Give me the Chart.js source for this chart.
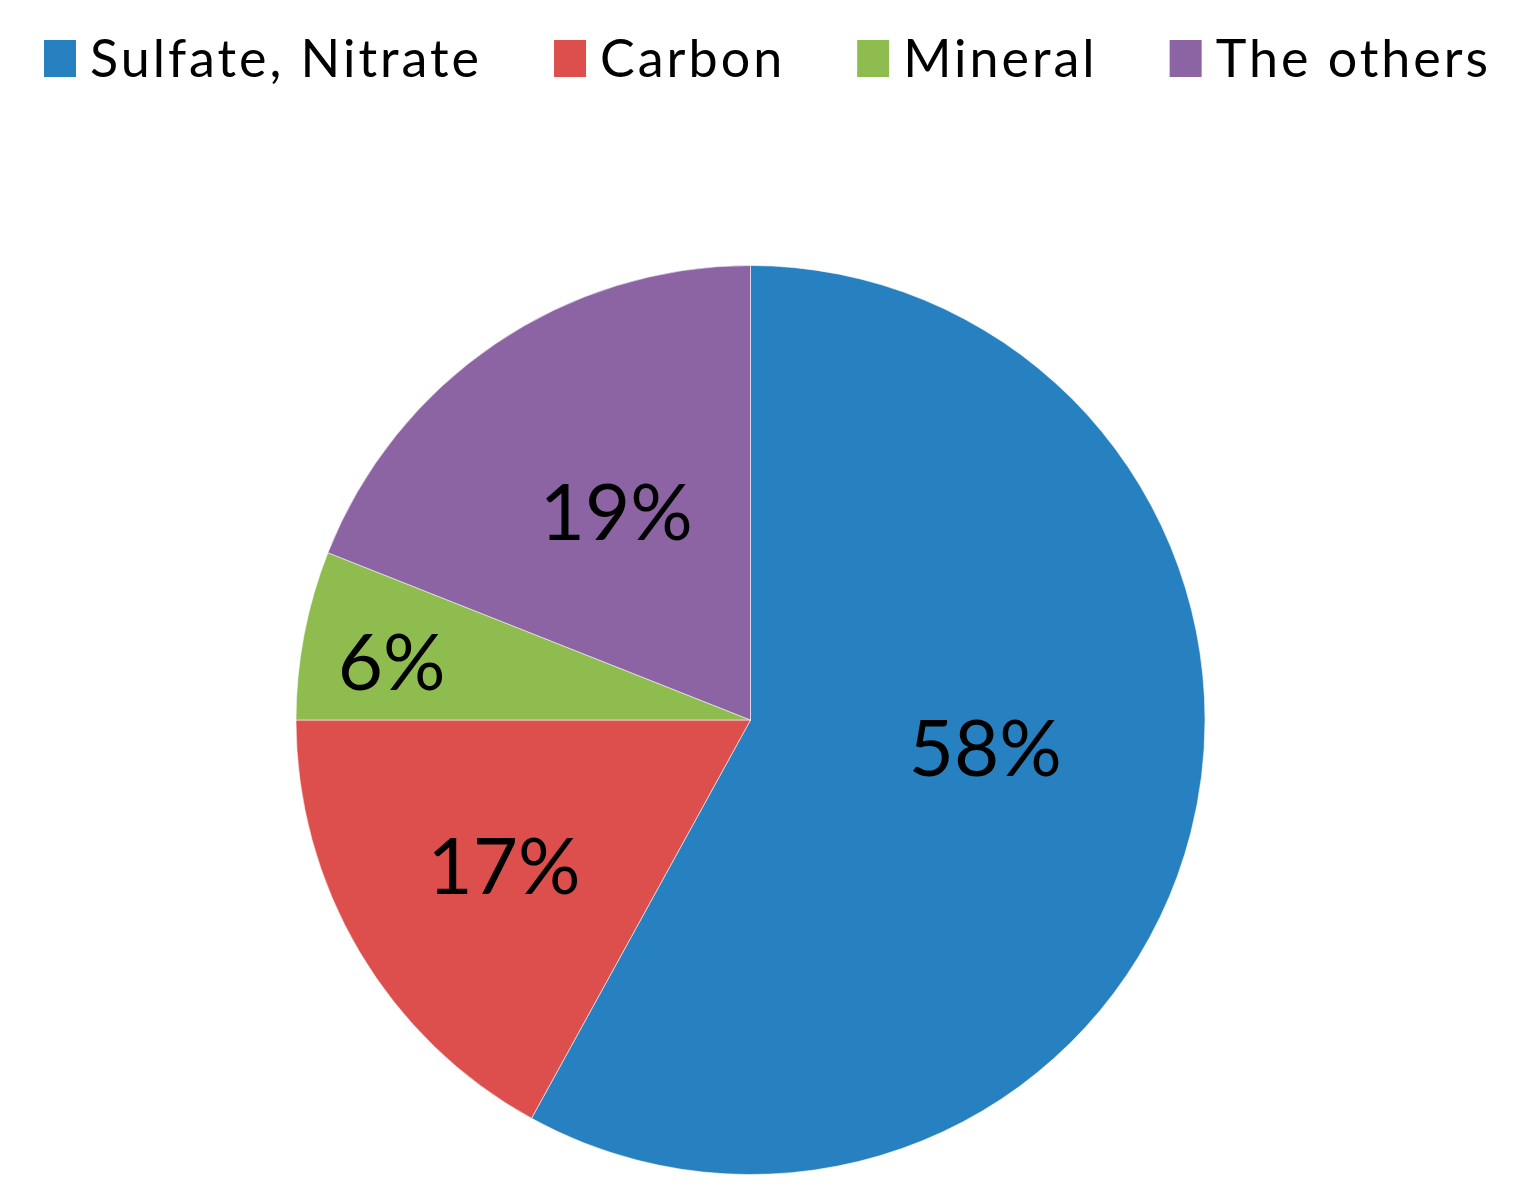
<!DOCTYPE html>
<html>
<head>
<meta charset="utf-8">
<script src="https://cdn.jsdelivr.net/npm/chart.js@4/dist/chart.umd.min.js"></script>
<style>
  html, body { margin: 0; padding: 0; background: #fff; }
  canvas { display: block; }
</style>
</head>
<body>
<canvas id="pieChart" width="1513" height="1197"></canvas>
<script>
const categories = ["Sulfate, Nitrate", "Carbon", "Mineral", "The others"];
const shares = [58, 17, 6, 19];
const sliceColors = ["#2780C0", "#DC4F4D", "#8FBC4F", "#8C64A4"];

// where each percentage sits inside its slice (angle fraction, radius fraction)
const labelAngleFrac = [0.463, 0.50, 0.43, 0.52];
const labelRadiusFrac = [0.52, 0.63, 0.80, 0.545];

const sliceLabels = {
    id: "sliceLabels",
    afterDatasetsDraw(chart) {
        const ctx = chart.ctx;
        const meta = chart.getDatasetMeta(0);
        ctx.save();
        ctx.font = "78px Lato";
        ctx.fillStyle = "#000";
        ctx.textAlign = "center";
        ctx.textBaseline = "alphabetic";
        meta.data.forEach((arc, i) => {
            const p = arc.getProps(["x", "y", "startAngle", "endAngle", "outerRadius"], true);
            const a = p.startAngle + (p.endAngle - p.startAngle) * labelAngleFrac[i];
            const r = p.outerRadius * labelRadiusFrac[i];
            const text = shares[i] + "%";
            const m = ctx.measureText(text);
            const cx = p.x + Math.cos(a) * r;
            const cy = p.y + Math.sin(a) * r;
            ctx.fillText(text, cx, cy + m.actualBoundingBoxAscent / 2);
        });
        ctx.restore();
    }
};

const topLegend = {
    id: "topLegend",
    afterDraw(chart) {
        const ctx = chart.ctx;
        ctx.save();
        ctx.font = "52px Lato";
        ctx.letterSpacing = "3px";
        ctx.textBaseline = "alphabetic";
        let x = 44;
        const baseline = 77;
        categories.forEach((name, i) => {
            ctx.fillStyle = sliceColors[i];
            ctx.fillRect(x, 40, 32, 37);
            ctx.fillStyle = "#000";
            ctx.fillText(name, x + 46, baseline);
            x += 46 + ctx.measureText(name).width + 72;
        });
        ctx.restore();
    }
};

new Chart(document.getElementById("pieChart"), {
    type: "pie",
    data: {
        labels: categories,
        datasets: [{
            data: shares,
            backgroundColor: sliceColors,
            borderColor: "rgba(255,255,255,0.55)",
            borderWidth: 1
        }]
    },
    options: {
        responsive: false,
        animation: false,
        layout: { padding: { top: 265, bottom: 22, left: 0, right: 12 } },
        plugins: {
            legend: { display: false },
            tooltip: { enabled: false }
        }
    },
    plugins: [sliceLabels, topLegend]
});
</script>
</body>
</html>
